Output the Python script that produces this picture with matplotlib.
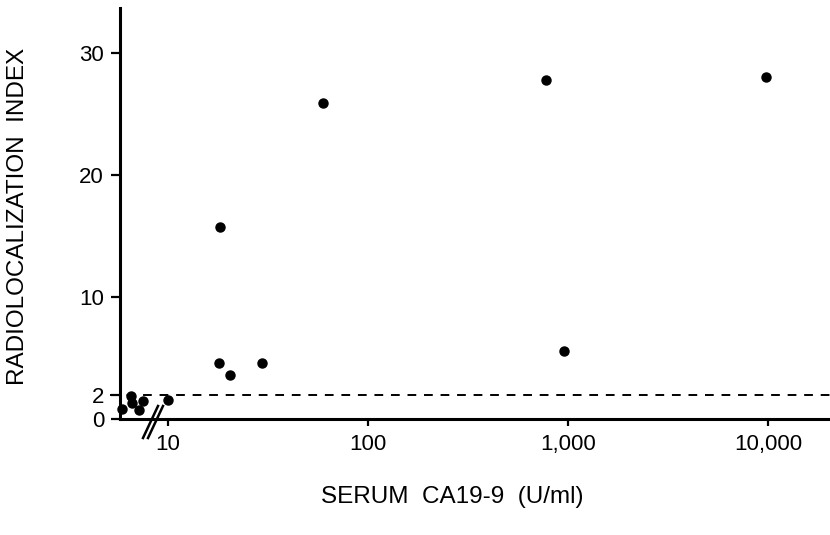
import numpy as np
import matplotlib.pyplot as plt
from matplotlib.lines import Line2D

plt.rcParams['font.family'] = ['Liberation Sans', 'DejaVu Sans']

# serum CA19-9 (U/ml) and radiolocalization index
ca199 = [5.9, 6.5, 6.6, 7.2, 7.5, 10.0, 18.0, 18.3, 20.4, 29.6, 59.6, 776, 959, 9740]
rli = [0.8, 1.9, 1.3, 0.7, 1.5, 1.55, 4.6, 15.7, 3.6, 4.55, 25.9, 27.8, 5.6, 28.0]

threshold = 2
xticks = [10, 100, 1000, 10000]
xticklabels = ['10', '100', '1,000', '10,000']
yticks = [0, 2, 10, 20, 30]
yticklabels = ['0', '2', '10', '20', '30']

fig = plt.figure(figsize=(8.3, 5.35), dpi=100)
ax = fig.add_axes([120/830, 116/535, 710/830, 411/535])

ax.plot(ca199, rli, 'o', color='black', markersize=6.5, clip_on=False, zorder=3)
ax.axhline(threshold, xmin=-10/710, xmax=1, color='black', lw=1.4,
           dashes=(4.5, 4), clip_on=False)

ax.set_xscale('log')
ax.set_xlim(10**0.76, 10**4.31)
ax.set_ylim(0, 33.69)

ax.set_xticks(xticks)
ax.set_xticklabels(xticklabels)
ax.minorticks_off()
ax.set_yticks(yticks)
ax.set_yticklabels(yticklabels)

ax.tick_params(axis='both', labelsize=16, width=1.6, color='black')
ax.tick_params(axis='x', direction='out', length=5, pad=6)
ax.tick_params(axis='y', direction='out', length=6.5, pad=5)

for s in ['top', 'right']:
    ax.spines[s].set_visible(False)
for s in ['left', 'bottom']:
    ax.spines[s].set_linewidth(2.2)

# axis break marks
for dx in [0, 5]:
    fig.add_artist(Line2D([(143 + dx)/830, (158 + dx)/830],
                          [(535 - 438)/535, (535 - 406)/535],
                          color='black', lw=1.8))

fig.text(18/830, (535 - 216)/535, 'RADIOLOCALIZATION  INDEX', rotation=90,
         ha='center', va='center', fontsize=17.5)
fig.text(452/830, (535 - 497)/535, 'SERUM  CA19-9  (U/ml)',
         ha='center', va='center', fontsize=17.5)

fig.savefig('out.png', dpi=100, facecolor='white')
